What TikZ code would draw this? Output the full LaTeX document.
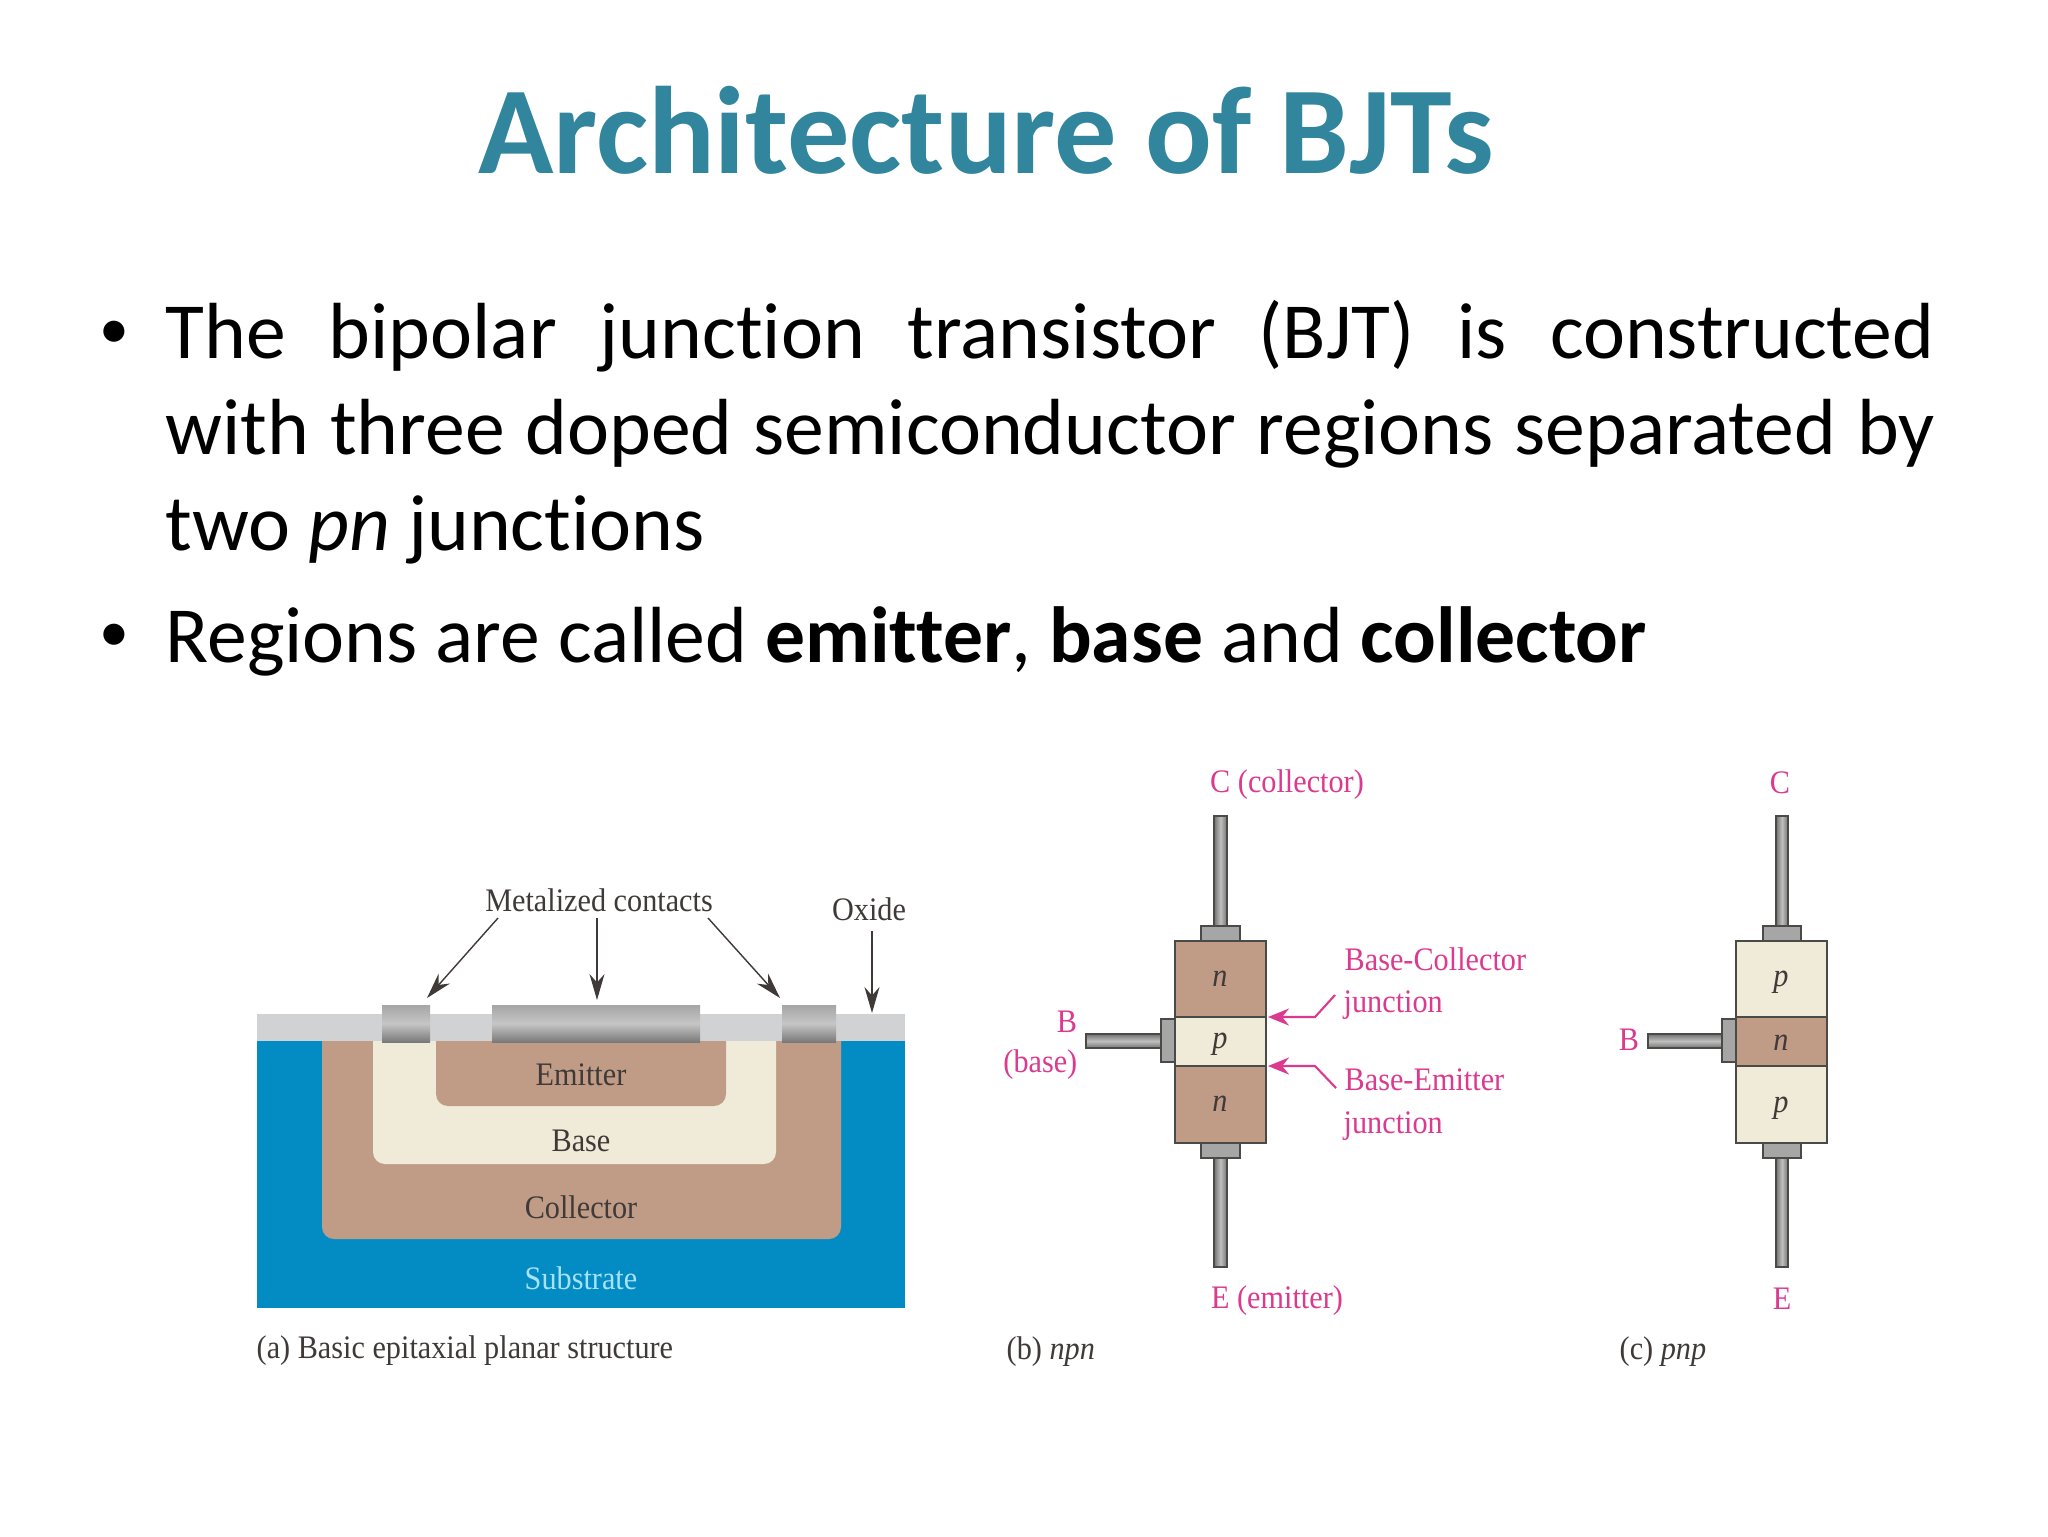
\documentclass[tikz,border=0pt]{standalone}
\usepackage{fontspec}
\setmainfont[Ligatures=NoCommon]{Carlito}
\newfontfamily\figfont[FakeStretch=0.92]{Liberation Serif}
\usetikzlibrary{arrows.meta,positioning,calc}
\definecolor{titleteal}{HTML}{31859C}
\definecolor{substrateblue}{HTML}{038CC4}
\definecolor{ntype}{HTML}{C09C87}
\definecolor{ptype}{HTML}{F0EBD8}
\definecolor{oxidegray}{HTML}{D0D2D3}
\definecolor{labelpink}{HTML}{DB3A8E}
\definecolor{figtext}{HTML}{3F3A38}
\definecolor{frameline}{HTML}{4A4A46}
\tikzset{
  fig/.style={inner sep=0pt,font=\figfont\fontsize{9.35}{11}\selectfont,text=figtext},
  pinklabel/.style={fig,text=labelpink},
  dopelabel/.style={fig,font=\figfont\itshape\fontsize{9.35}{11}\selectfont},
  blackptr/.style={draw=figtext,line width=0.4pt,-{Stealth[length=2.6mm,width=1.5mm]}},
  pinkptr/.style={draw=labelpink,line width=0.6pt,-{Stealth[length=2.1mm,width=1.7mm]}},
  contact/.style={top color=gray!70,bottom color=gray!95!black,middle color=gray!45},
  leadv/.style={draw=frameline,line width=0.6pt,left color=gray!90!black,right color=gray!90!black,middle color=gray!50},
  leadh/.style={draw=frameline,line width=0.6pt,top color=gray!90!black,bottom color=gray!90!black,middle color=gray!50},
  capbox/.style={draw=frameline,line width=0.5pt,fill=gray!70},
  layer/.style={draw=frameline,line width=0.6pt},
  body/.style={inner sep=0pt,anchor=base west,font=\fontsize{22.65}{27.3}\selectfont},
  dotmark/.style={inner sep=0pt,anchor=base,font=\fontsize{17}{20}\selectfont},
}
\begin{document}
\begin{tikzpicture}[x=0.1mm,y=-0.1mm]
  \useasboundingbox (0,0) rectangle (2048,1536);
  \fill[white] (0,0) rectangle (2048,1536);

  \node[inner sep=0pt,font=\bfseries\fontsize{35.4}{42}\selectfont,text=titleteal] (title) at (986,130) {Architecture of BJTs};

  \node[dotmark] (dotone) at (114,348) {•};
  \node[body,anchor=north west,text width=176.9mm,align=justify] (textone) at (165,300)
    {The bipolar junction transistor (BJT) is constructed\linebreak with three doped semiconductor regions separated by\linebreak two \textit{pn} junctions};
  \node[dotmark] (dottwo) at (114,651) {•};
  \node[body] (texttwo) at (165,662) {Regions are called \textbf{emitter}, \textbf{base} and \textbf{collector}};

  % (a) planar structure
  \fill[oxidegray] (257,1014) rectangle (905,1042);
  \fill[substrateblue] (257,1041) rectangle (905,1308);
  \fill[ntype] (322,1041) [rounded corners=1.2mm] -- (322,1239) -- (841,1239) [sharp corners] -- (841,1041) -- cycle;
  \fill[ptype] (373,1041) [rounded corners=1.2mm] -- (373,1164) -- (776,1164) [sharp corners] -- (776,1041) -- cycle;
  \fill[ntype] (436,1041) [rounded corners=1.2mm] -- (436,1106) -- (726,1106) [sharp corners] -- (726,1041) -- cycle;
  \fill[contact] (382,1005) rectangle (430,1042);
  \fill[contact] (492,1005) rectangle (700,1042);
  \fill[contact] (782,1005) rectangle (836,1042);

  \node[fig] (emitter) at (581,1075) {Emitter};
  \node[fig] (base) at (581,1141) {Base};
  \node[fig] (collector) at (581,1207) {Collector};
  \node[fig,text=cyan!35] (substrate) at (581,1278) {Substrate};
  \node[fig] (metal) at (599,900) {Metalized contacts};
  \node[fig] (oxide) at (869,909) {Oxide};
  \node[fig,anchor=west] (capa) at (256,1351) {(a) Basic epitaxial planar structure};

  \coordinate (metalL) at (498,918);
  \coordinate (metalM) at (597,918);
  \coordinate (metalR) at (708,918);
  \coordinate (oxideS) at (872,931);
  \coordinate (tipL) at (427,998);
  \coordinate (tipM) at (597,1000);
  \coordinate (tipR) at (780,998);
  \coordinate (tipO) at (872,1013);
  \draw[blackptr] (metalL) -- (tipL);
  \draw[blackptr] (metalM) -- (tipM);
  \draw[blackptr] (metalR) -- (tipR);
  \draw[blackptr] (oxideS) -- (tipO);

  % (b) npn
  \draw[leadv] (1214,816) rectangle (1227,926);
  \draw[leadv] (1214,1158) rectangle (1227,1267);
  \draw[leadh] (1086,1034) rectangle (1161,1048);
  \draw[capbox] (1201,926) rectangle (1240,941);
  \draw[capbox] (1201,1143) rectangle (1240,1158);
  \draw[capbox] (1161,1019) rectangle (1175,1062);
  \draw[layer,fill=ntype] (1175,941) rectangle (1266,1017);
  \draw[layer,fill=ptype] (1175,1017) rectangle (1266,1066);
  \draw[layer,fill=ntype] (1175,1066) rectangle (1266,1143);

  \node[dopelabel] (npnC) at (1220,979) {n};
  \node[dopelabel] (npnB) at (1220,1044) {p};
  \node[dopelabel] (npnE) at (1220,1104) {n};

  \node[pinklabel] (ccoll) at (1287,785) {C (collector)};
  \node[pinklabel] (eemit) at (1277,1301) {E (emitter)};
  \node[pinklabel] (bb) at (1067,1022) {B};
  \node[pinklabel,anchor=east] (bbase) at (1078,1065) {(base)};
  \node[pinklabel,anchor=west] (bcone) at (1344,959) {Base-Collector};
  \node[pinklabel,anchor=west] (bctwo) at (1343,1005) {junction};
  \node[pinklabel,anchor=west] (beone) at (1344,1080) {Base-Emitter};
  \node[pinklabel,anchor=west] (betwo) at (1343,1126) {junction};
  \node[fig,anchor=west] (capb) at (1006,1352) {(b) \textit{npn}};

  \coordinate (bcbend) at (1315,1017);
  \coordinate (bcend) at (1335,995);
  \coordinate (bctip) at (1268,1017);
  \coordinate (bebend) at (1315,1066);
  \coordinate (beend) at (1336,1088);
  \coordinate (betip) at (1268,1066);
  \draw[pinkptr] (bcend) -- (bcbend) -- (bctip);
  \draw[pinkptr] (beend) -- (bebend) -- (betip);

  % (c) pnp
  \draw[leadv] (1776,816) rectangle (1788,926);
  \draw[leadv] (1776,1158) rectangle (1788,1267);
  \draw[leadh] (1648,1034) rectangle (1722,1048);
  \draw[capbox] (1763,926) rectangle (1801,941);
  \draw[capbox] (1763,1143) rectangle (1801,1158);
  \draw[capbox] (1722,1019) rectangle (1736,1062);
  \draw[layer,fill=ptype] (1736,941) rectangle (1827,1017);
  \draw[layer,fill=ntype] (1736,1017) rectangle (1827,1066);
  \draw[layer,fill=ptype] (1736,1066) rectangle (1827,1143);

  \node[dopelabel] (pnpC) at (1781,982) {p};
  \node[dopelabel] (pnpB) at (1781,1043) {n};
  \node[dopelabel] (pnpE) at (1781,1108) {p};

  \node[pinklabel] (cc) at (1780,783) {C};
  \node[pinklabel] (ee) at (1782,1299) {E};
  \node[pinklabel] (bbp) at (1629,1040) {B};
  \node[fig,anchor=west] (capc) at (1619,1352) {(c) \textit{pnp}};
\end{tikzpicture}
\end{document}
